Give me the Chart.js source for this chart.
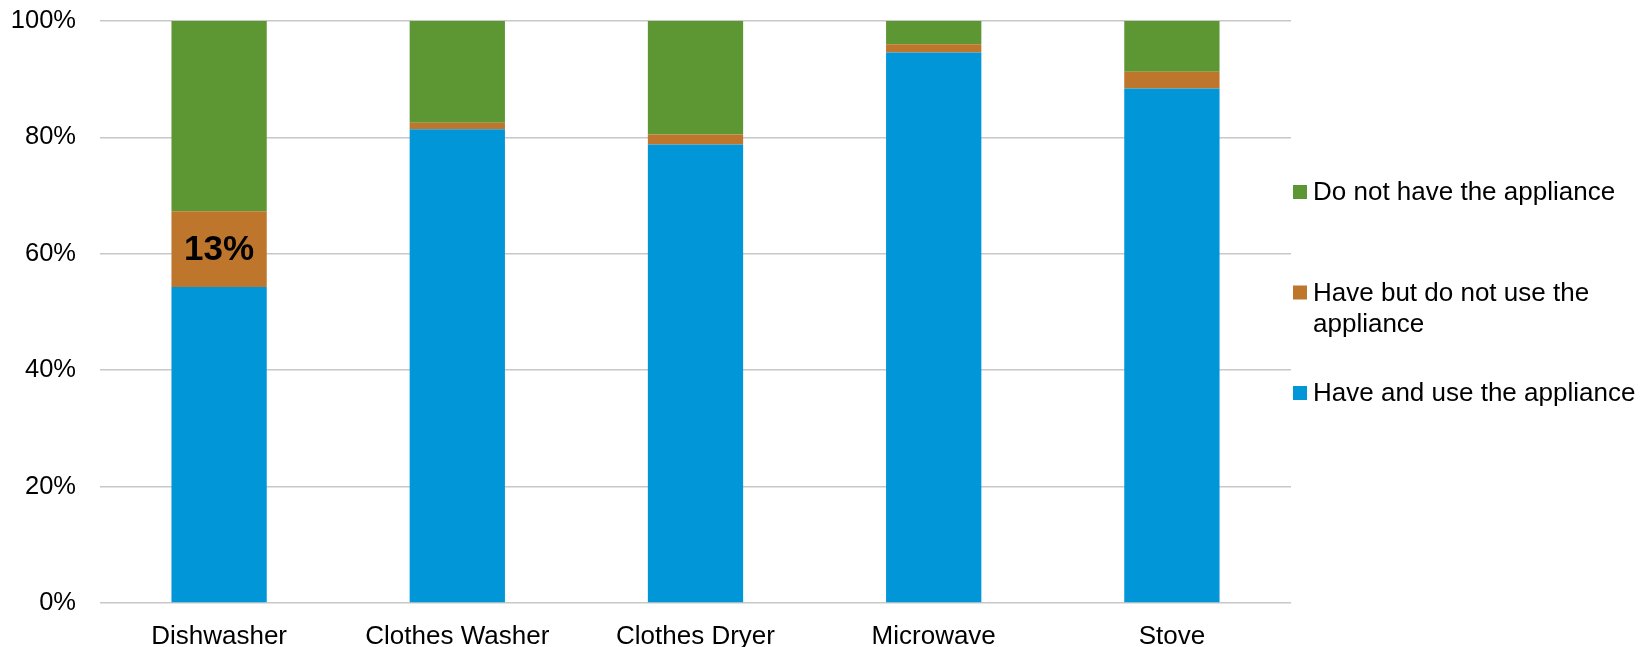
<!DOCTYPE html>
<html>
<head>
<meta charset="utf-8">
<title>Appliance ownership and use</title>
<script src="https://cdn.jsdelivr.net/npm/chart.js@4/dist/chart.umd.min.js"></script>
<style>
  html, body { margin: 0; padding: 0; background: #ffffff; }
  #wrap { width: 1648px; height: 647px; }
</style>
</head>
<body>
<div id="wrap"><canvas id="chart" width="1648" height="647"></canvas></div>
<script>
// Appliances surveyed
const categories = ['Dishwasher', 'Clothes Washer', 'Clothes Dryer', 'Microwave', 'Stove'];

// Share of households (%) in each group, stacked bottom to top
const haveAndUse    = [54.3, 81.4, 78.8, 94.6, 88.4];
const haveNotUse    = [13,   1.1,  1.7,  1.4,  2.9];
const doNotHave     = [32.7, 17.5, 19.5, 4.0,  8.7];

const seriesNames = [
  'Have and use the appliance',
  'Have but do not use the appliance',
  'Do not have the appliance'
];

// Y-axis tick values
const yTicks = [0, 20, 40, 60, 80, 100];

// Segments that carry a value label: [series index, category index]
const labelledSegments = [[1, 0]];

const COLORS = ['#0096D7', '#BE752C', '#5D9733'];
const FONT = '"Liberation Sans", Arial, Helvetica, sans-serif';

// Value label drawn in the middle of selected segments
const segmentLabels = {
  id: 'segmentLabels',
  afterDatasetsDraw(chart) {
    const ctx = chart.ctx;
    ctx.save();
    ctx.font = 'bold 35px ' + FONT;
    ctx.fillStyle = '#000000';
    ctx.textAlign = 'center';
    ctx.textBaseline = 'middle';
    labelledSegments.forEach(([ds, i]) => {
      const bar = chart.getDatasetMeta(ds).data[i];
      const v = chart.data.datasets[ds].data[i];
      const y = (bar.y + bar.base) / 2;
      ctx.fillText(Math.round(v) + '%', bar.x, y + 1);
    });
    ctx.restore();
  }
};

// Legend on the right, top series first, long names wrapped
const sideLegend = {
  id: 'sideLegend',
  afterDraw(chart) {
    const ctx = chart.ctx;
    const boxX = 1293, box = 14, textX = 1313;
    const maxW = chart.width - textX - 2;
    const firstY = 192, itemPitch = 100.5, lineH = 31;
    ctx.save();
    ctx.font = '26px ' + FONT;
    ctx.textBaseline = 'middle';
    ctx.textAlign = 'left';
    const order = chart.data.datasets.map((d, i) => i).reverse();
    order.forEach((dsIndex, k) => {
      const ds = chart.data.datasets[dsIndex];
      const y0 = firstY + k * itemPitch;
      // wrap words to fit the space right of the plot
      const words = ds.label.split(' ');
      const lines = [];
      let cur = '';
      words.forEach(w => {
        const t = cur ? cur + ' ' + w : w;
        if (ctx.measureText(t).width > maxW && cur) { lines.push(cur); cur = w; }
        else cur = t;
      });
      if (cur) lines.push(cur);
      ctx.fillStyle = ds.backgroundColor;
      ctx.fillRect(boxX, y0 - box / 2, box, box);
      ctx.fillStyle = '#000000';
      lines.forEach((ln, j) => ctx.fillText(ln, textX, y0 + j * lineH + 1));
    });
    ctx.restore();
  }
};

const seriesValues = [haveAndUse, haveNotUse, doNotHave];

new Chart(document.getElementById('chart'), {
  type: 'bar',
  data: {
    labels: categories,
    datasets: seriesValues.map((vals, i) => ({
      label: seriesNames[i],
      data: vals,
      backgroundColor: COLORS[i],
      borderWidth: 0,
      categoryPercentage: 1.0,
      barPercentage: 0.4
    }))
  },
  options: {
    responsive: false,
    animation: false,
    layout: { padding: { top: 21, right: 357, left: 0, bottom: 0 } },
    plugins: {
      legend: { display: false },
      tooltip: { enabled: false }
    },
    scales: {
      x: {
        stacked: true,
        grid: { display: false, drawTicks: false },
        border: { display: false },
        ticks: {
          color: '#000000',
          font: { family: FONT, size: 26 },
          padding: 18,
          maxRotation: 0,
          autoSkip: false
        },
        afterFit(scale) { scale.height = 44; }
      },
      y: {
        stacked: true,
        min: 0,
        max: 100,
        afterBuildTicks(scale) { scale.ticks = yTicks.map(v => ({ value: v })); },
        grid: { color: '#C8C8C8', lineWidth: 1.5, drawTicks: false },
        border: { display: false },
        ticks: {
          color: '#000000',
          font: { family: FONT, size: 25.5 },
          padding: 24,
          callback: v => v + '%'
        },
        afterFit(scale) {
          scale.width = 100;
          scale.paddingTop = 0;
          scale.paddingBottom = 0;
        }
      }
    }
  },
  plugins: [segmentLabels, sideLegend]
});
</script>
</body>
</html>
